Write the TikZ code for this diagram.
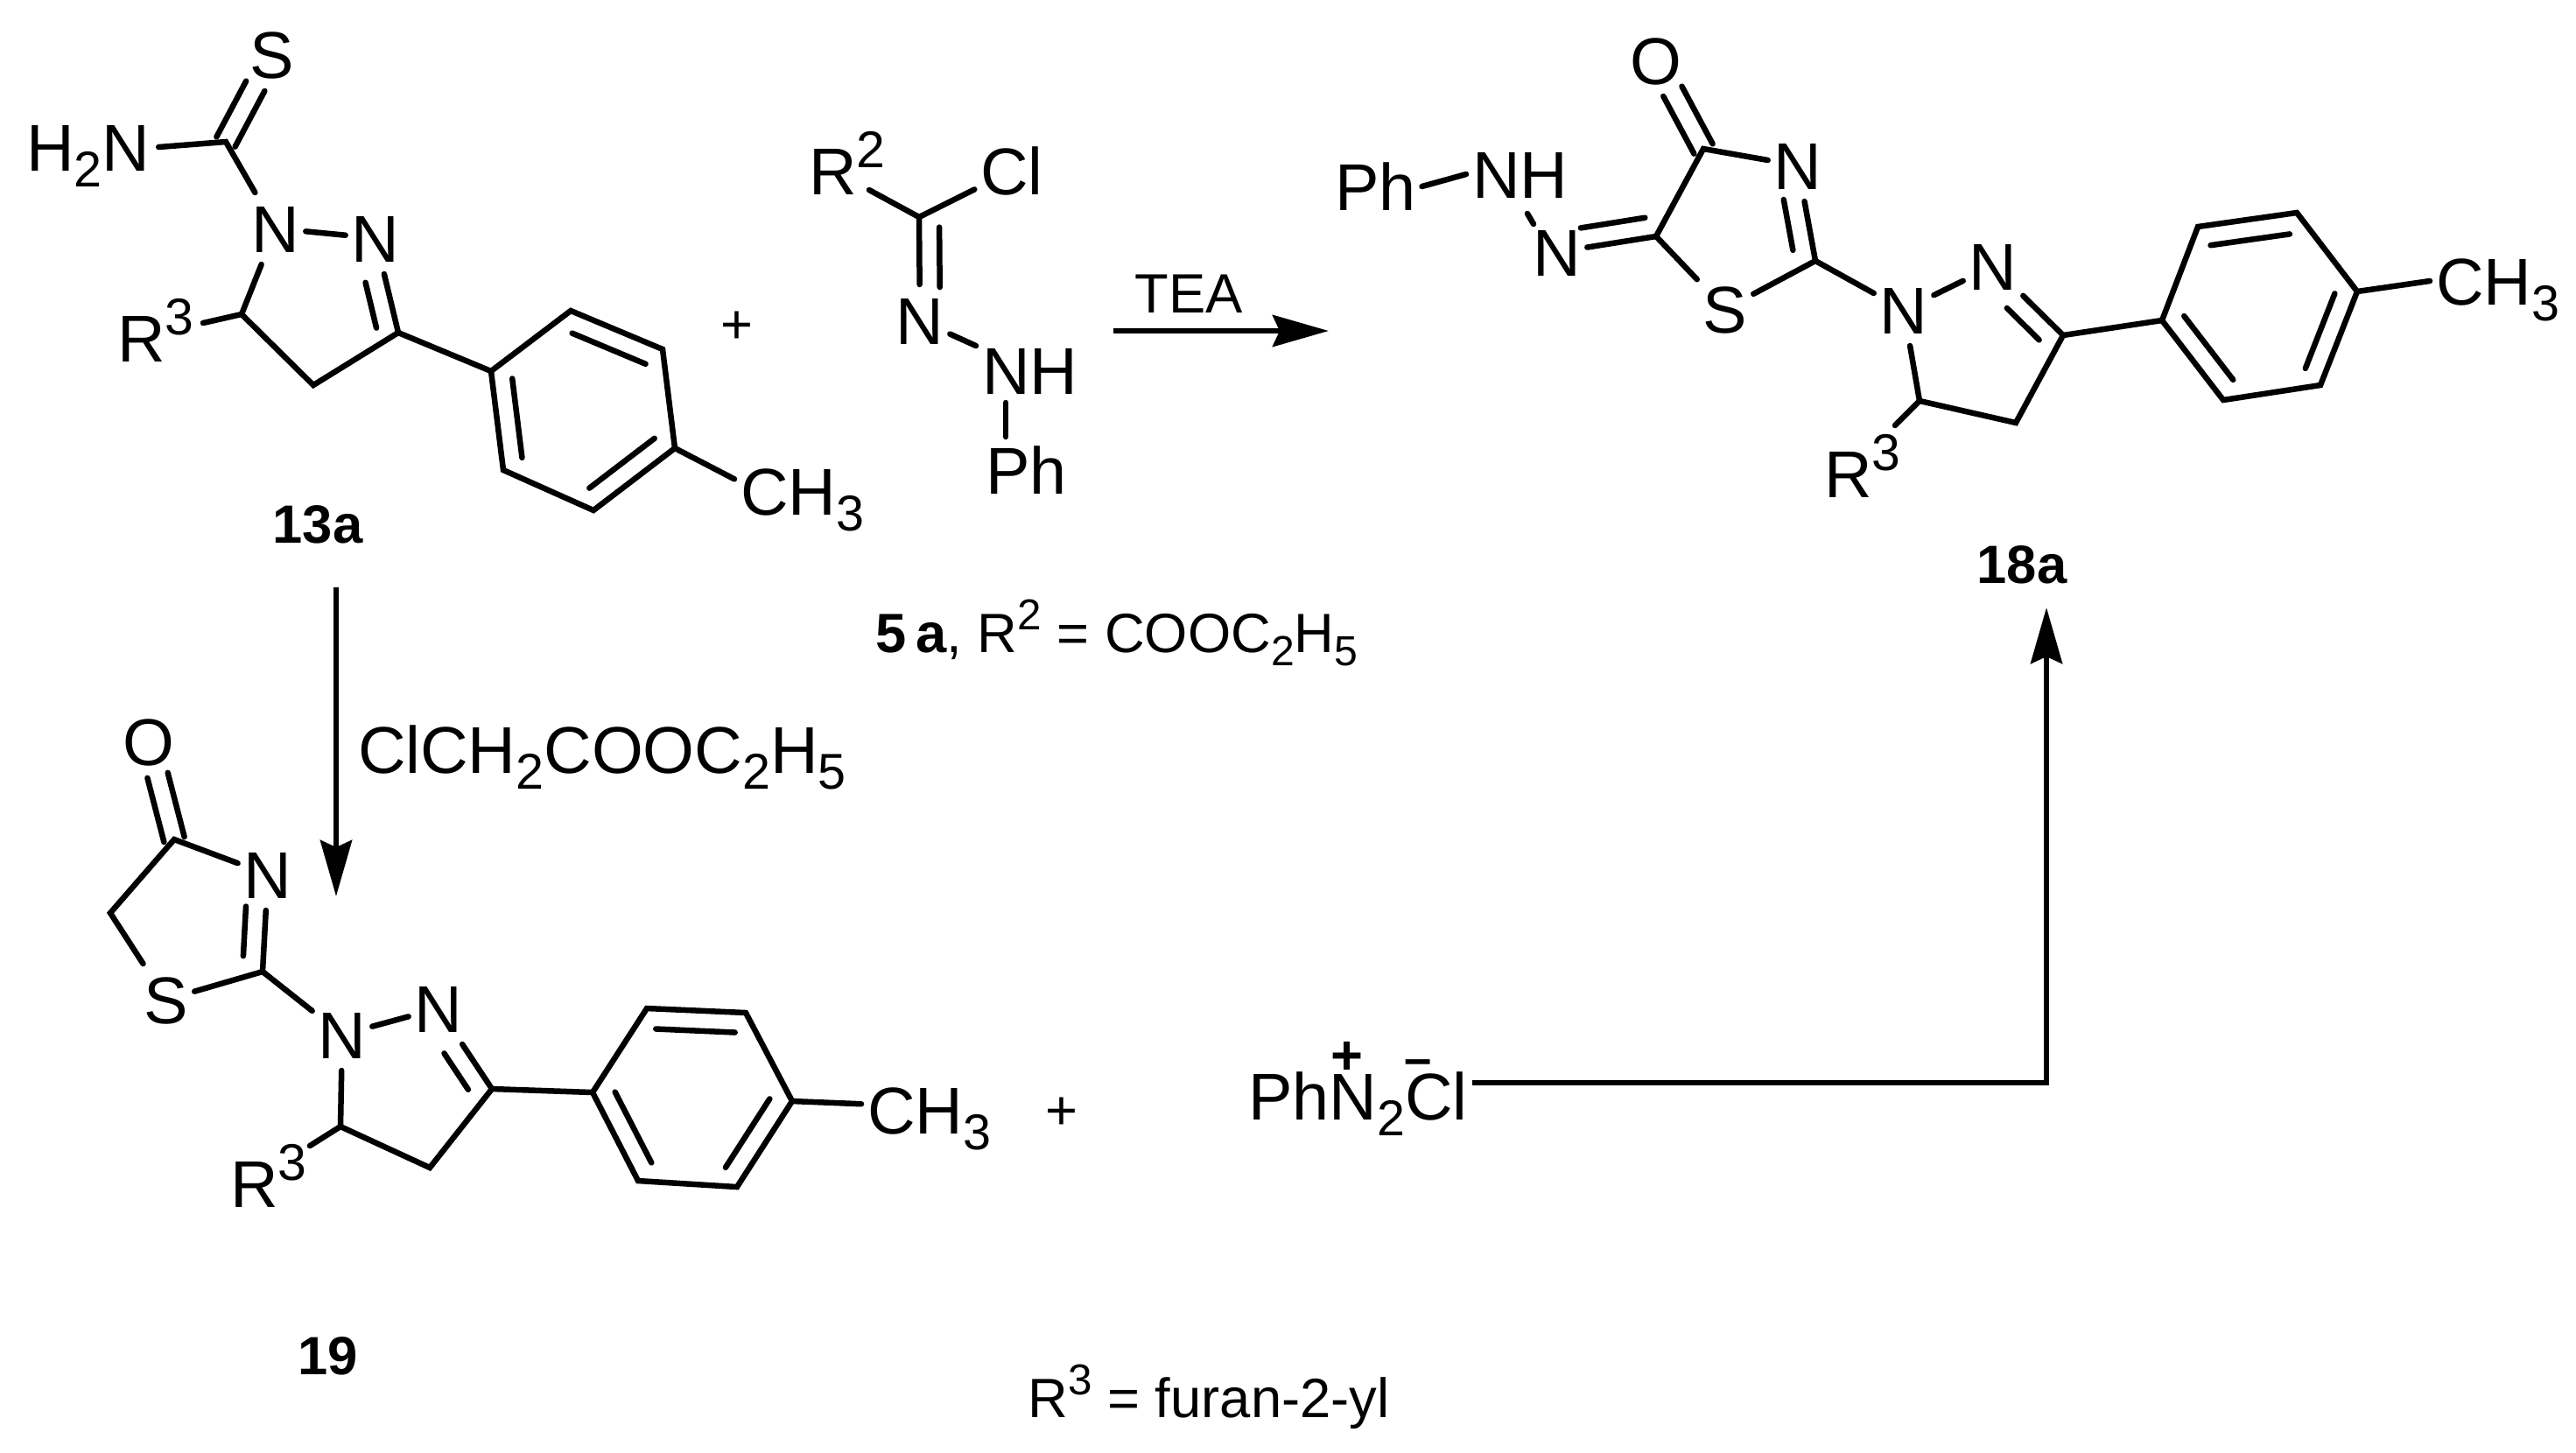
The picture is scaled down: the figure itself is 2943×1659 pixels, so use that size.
\documentclass[tikz,border=0pt]{standalone}
\usepackage{fontspec}
\setmainfont{Liberation Sans}
\usetikzlibrary{calc,arrows.meta}
\newcommand{\chemf}{\fontsize{21.5}{24}\selectfont}
\newcommand{\sps}[1]{\raisebox{0.4em}{\scalebox{0.78}{#1}}}
\newcommand{\sbs}[1]{\raisebox{-0.24em}{\scalebox{0.76}{#1}}}
\tikzset{
  bond/.style={line width=0.065cm,line cap=round},
  rxn/.style={line width=0.065cm,-{Stealth[length=0.64cm,width=0.36cm,inset=0.08cm]}},
  atom/.style={font=\chemf,inner sep=0pt,outer xsep=0.07cm,outer ysep=0.14cm,
    text height=0.54cm,text depth=0pt},
  lab/.style={font=\fontsize{17.5}{20}\selectfont\bfseries,inner sep=0pt},
  note/.style={font=\fontsize{18}{22}\selectfont,inner sep=0pt,anchor=base west},
  chg/.style={font=\fontsize{18}{22}\selectfont,inner sep=0pt}
}
% second line of a double bond, on one side of the first
\newcommand{\ibond}[5]{\draw[bond] ($(#1)!#4!(#2)!0.23cm!#3:(#2)$) -- ($(#1)!#5!(#2)!0.23cm!#3:(#2)$);}
% double bond centred on the line a--b, stopping short of the atom b
\newcommand{\dbond}[3]{
  \draw[bond,shorten >=#3] ($(#1)!0.12cm!90:(#2)$) -- ($(#2)!0.12cm!-90:(#1)$);
  \draw[bond,shorten >=#3] ($(#1)!0.12cm!-90:(#2)$) -- ($(#2)!0.12cm!90:(#1)$);
}
% tolyl ring, corners #1r1 to #1r6
\newcommand{\arene}[1]{
  \draw[bond] (#1r1)--(#1r2)--(#1r3)--(#1r4)--(#1r5)--(#1r6)--cycle;
  \ibond{#1r2}{#1r3}{-90}{0.1}{0.9}
  \ibond{#1r4}{#1r5}{-90}{0.1}{0.9}
  \ibond{#1r6}{#1r1}{-90}{0.1}{0.9}
}

\begin{document}
\begin{tikzpicture}[x=0.01cm,y=-0.01cm]
  \useasboundingbox (0,0) rectangle (2943,1659);

  % 13a
  \coordinate (a1) at (258,162);
  \coordinate (a3) at (455,380);
  \coordinate (a4) at (358,440);
  \coordinate (a5) at (276,359);
  \coordinate (arb) at (232,369);
  \coordinate (ar1) at (561,424);
  \coordinate (ar2) at (652,355);
  \coordinate (ar3) at (757,399);
  \coordinate (ar4) at (771,512);
  \coordinate (ar5) at (678,583);
  \coordinate (ar6) at (575,537);
  \node[atom] (aS) at (311,62) {S};
  \node[atom,anchor=west,outer xsep=0.1cm] (aNH) at (20,168) {H\sbs{2}N};
  \node[atom] (aN1) at (315,261) {N};
  \node[atom] (aN2) at (429,272) {N};
  \node[atom,anchor=west] (aR) at (127,386) {R\sps{3}};
  \node[atom,anchor=west] (aMe) at (839,561) {CH\sbs{3}};
  \dbond{a1}{aS}{0.41cm}
  \draw[bond] (aNH.east) -- (a1) -- (aN1);
  \draw[bond] (aN1) -- (aN2);
  \draw[bond] (aN1) -- (a5) -- (a4) -- (a3) -- (aN2);
  \ibond{a3}{aN2}{90}{0.1}{0.58}
  \draw[bond] (a5) -- (arb);
  \draw[bond] (a3) -- (ar1);
  \arene{a}
  \draw[bond] (ar4) -- (aMe.170);
  \node[lab] (a13) at (363,599) {13a};
  \node[chg] (aplus) at (842,374) {+};

  % 5a
  \coordinate (h1) at (1050,248);
  \coordinate (hrb) at (993,217);
  \coordinate (hnb) at (1149,460);
  \coordinate (hpb) at (1149,499);
  \node[atom,anchor=west,outer sep=0pt] (hR) at (924,195) {R\sps{2}};
  \node[atom] (hCl) at (1156,195) {Cl};
  \node[atom] (hN) at (1051,366) {N};
  \node[atom,anchor=west] (hNH) at (1115,423) {NH};
  \node[atom,anchor=west] (hPh) at (1119,537) {Ph};
  \draw[bond] (hrb) -- (h1) -- (hCl);
  \draw[bond] (h1) -- (hN);
  \ibond{h1}{hN}{90}{0.1}{0.68}
  \draw[bond] (hN) -- (hNH);
  \draw[bond] (hnb) -- (hpb);
  \node[note] (h5a) at (1000,745) {\textbf{5\,a}, R\sps{2} = COOC\sbs{2}H\sbs{5}};

  % TEA arrow
  \coordinate (teaS) at (1272,378);
  \coordinate (teaE) at (1518,378);
  \draw[rxn] (teaS) -- (teaE);
  \node[chg] (tea) at (1358,336) {TEA};

  % 18a
  \coordinate (b4) at (1946,170);
  \coordinate (b5) at (1892,270);
  \coordinate (b2) at (2074,298);
  \coordinate (b6) at (2193,458);
  \coordinate (b7) at (2303,483);
  \coordinate (b8) at (2357,383);
  \coordinate (bnb) at (1745,244);
  \coordinate (bnc) at (1752,256);
  \coordinate (brb) at (2165,486);
  \coordinate (br1) at (2470,366);
  \coordinate (br2) at (2511,259);
  \coordinate (br3) at (2624,243);
  \coordinate (br4) at (2693,333);
  \coordinate (br5) at (2651,440);
  \coordinate (br6) at (2540,457);
  \node[atom] (bO) at (1892,69) {O};
  \node[atom] (bN3) at (2054,189) {N};
  \node[atom] (bS) at (1971,353) {S};
  \node[atom] (bN) at (1779,288) {N};
  \node[atom,anchor=west] (bNH) at (1675,199) {NH};
  \node[atom,anchor=west] (bPh) at (1518,213) {Ph};
  \node[atom] (bN1) at (2175,354) {N};
  \node[atom] (bN2) at (2277,304) {N};
  \node[atom,anchor=west] (bR) at (2077,541) {R\sps{3}};
  \node[atom,anchor=west] (bMe) at (2776,321) {CH\sbs{3}};
  \dbond{b4}{bO}{0.4cm}
  \draw[bond] (bPh.east) -- (bNH.west);
  \draw[bond] (bnb) -- (bnc);
  \draw[bond] (b5) -- (bN);
  \ibond{b5}{bN}{-90}{0.08}{0.73}
  \draw[bond] (bN3) -- (b4) -- (b5) -- (bS) -- (b2) -- (bN3);
  \ibond{b2}{bN3}{90}{0.15}{0.68}
  \draw[bond] (b2) -- (bN1);
  \draw[bond] (bN1) -- (bN2);
  \draw[bond] (bN1) -- (b6) -- (b7) -- (b8) -- (bN2);
  \ibond{b8}{bN2}{90}{0.14}{0.6}
  \draw[bond] (b6) -- (brb);
  \draw[bond] (b8) -- (br1);
  \arene{b}
  \draw[bond] (br4) -- (bMe.west);
  \node[lab] (b18) at (2310,645) {18a};

  % 19
  \coordinate (c4) at (199,959);
  \coordinate (c5) at (126,1043);
  \coordinate (c2) at (300,1110);
  \coordinate (c6) at (389,1287);
  \coordinate (c7) at (491,1334);
  \coordinate (c8) at (562,1244);
  \coordinate (crb) at (354,1309);
  \coordinate (cr1) at (677,1248);
  \coordinate (cr2) at (739,1152);
  \coordinate (cr3) at (852,1157);
  \coordinate (cr4) at (905,1258);
  \coordinate (cr5) at (842,1356);
  \coordinate (cr6) at (729,1349);
  \node[atom] (cO) at (170,847) {O};
  \node[atom] (cN3) at (306,999) {N};
  \node[atom] (cS) at (190,1142) {S};
  \node[atom] (cN1) at (391,1182) {N};
  \node[atom] (cN2) at (501,1152) {N};
  \node[atom,anchor=west] (cR) at (256,1352) {R\sps{3}};
  \node[atom,anchor=west] (cMe) at (984,1268) {CH\sbs{3}};
  \dbond{c4}{cO}{0.4cm}
  \draw[bond] (cN3) -- (c4) -- (c5) -- (cS) -- (c2) -- (cN3);
  \ibond{c2}{cN3}{90}{0.15}{0.66}
  \draw[bond] (c2) -- (cN1);
  \draw[bond] (cN1) -- (cN2);
  \draw[bond] (cN1) -- (c6) -- (c7) -- (c8) -- (cN2);
  \ibond{c8}{cN2}{90}{0.13}{0.58}
  \draw[bond] (c6) -- (crb);
  \draw[bond] (c8) -- (cr1);
  \arene{c}
  \draw[bond] (cr4) -- (cMe.175);
  \node[lab] (c19) at (375,1549) {19};
  \node[chg] (cplus) at (1213,1272) {+};

  % arrow from 13a down to 19
  \coordinate (acS) at (384,671);
  \coordinate (acE) at (384,1024);
  \draw[rxn] (acS) -- (acE);
  \node[atom,anchor=base west] (reag) at (402,883) {ClCH\sbs{2}COOC\sbs{2}H\sbs{5}};

  % diazonium salt and arrow up to 18a
  \node[atom,anchor=base west] (diazo) at (1419,1279) {PhN\sbs{2}Cl};
  \node[chg,font=\fontsize{18}{22}\selectfont\bfseries] (dplus) at (1539,1209) {+};
  \node[chg,font=\fontsize{16}{20}\selectfont\bfseries] (dminus) at (1620,1220) {–};
  \coordinate (dzS) at (1682,1237);
  \coordinate (dzE) at (2338,694);
  \draw[rxn] (dzS) -| (dzE);

  \node[note] (rdef) at (1174,1619) {R\sps{3} = furan-2-yl};
\end{tikzpicture}
\end{document}
